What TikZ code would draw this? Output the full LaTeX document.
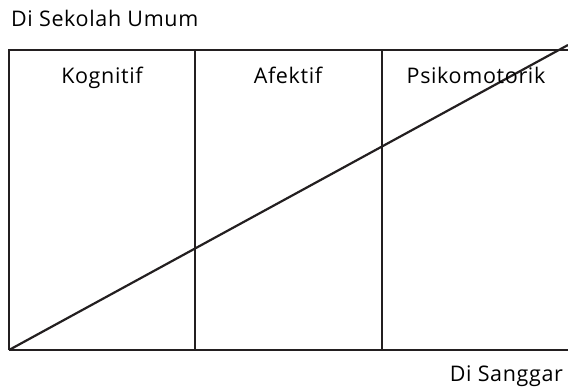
\documentclass[tikz,border=0pt]{standalone}
\usepackage{fontspec}
\setmainfont[LetterSpace=3]{Open Sans}
\usetikzlibrary{calc}
\definecolor{LineGray}{RGB}{35,31,32}
\begin{document}
\begin{tikzpicture}[x=1pt,y=-1pt,font=\fontsize{21.5}{24}\selectfont,line width=2.2pt]
\useasboundingbox (0,0) rectangle (568,389);
\coordinate (tl) at (9,50);
\coordinate (br) at (570,350);
\coordinate (bl) at (9,350);
\coordinate (tr) at (570,50);
\draw[LineGray] (bl) -- (tl) -- (tr);
\draw[LineGray] (bl) -- (br);
\foreach \x/\n in {195/a,382/b}{\draw[LineGray] (\x,50) coordinate (\n top) -- (\x,350) coordinate (\n bot);}
\draw[LineGray] (bl) -- (568,45);
\node[anchor=base west,inner sep=0pt] (umum) at (10,26) {Di Sekolah Umum};
\node[anchor=base east,inner sep=0pt] (sanggar) at (564,381) {Di Sanggar};
\node[anchor=base] (kog) at (102,83) {Kognitif};
\node[anchor=base] (afek) at (288,83) {Afektif};
\node[anchor=base] (psi) at (476,83) {Psikomotorik};
\end{tikzpicture}
\end{document}
